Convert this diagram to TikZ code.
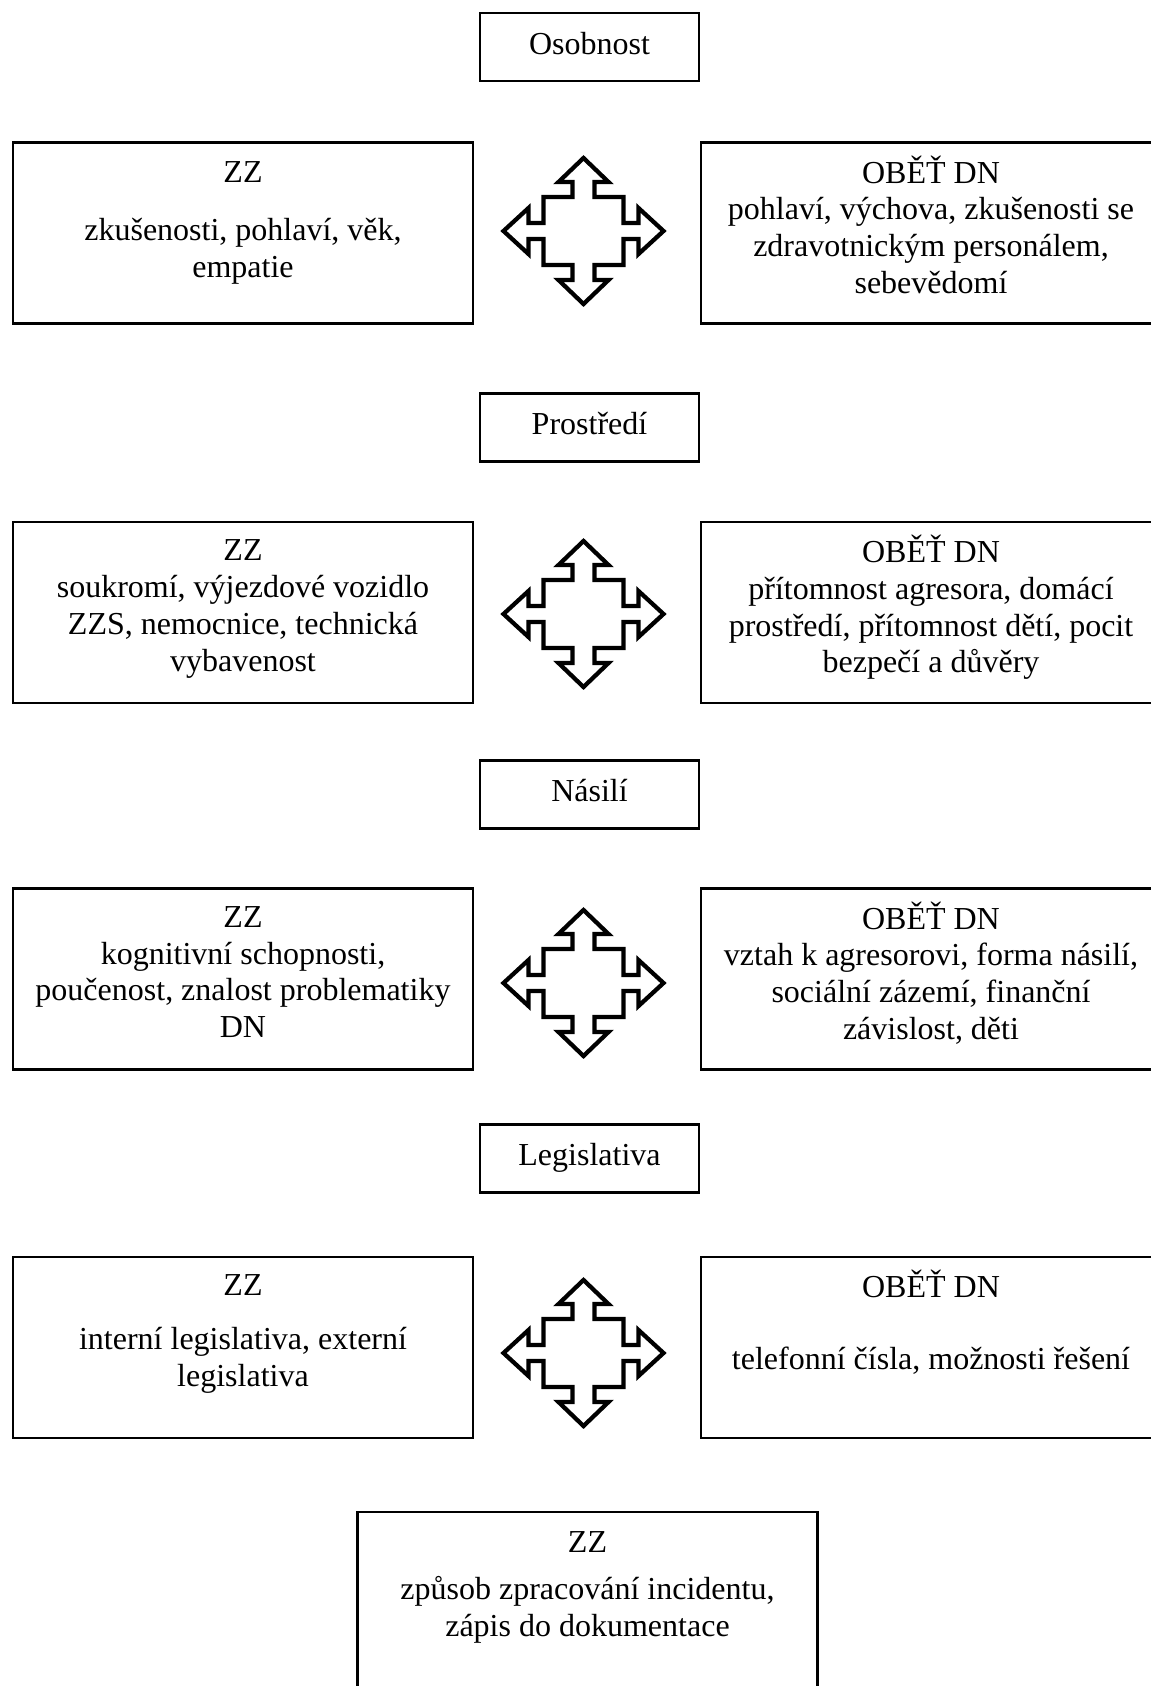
\documentclass[tikz,border=0pt]{standalone}
\usepackage{fontspec}
\setmainfont{Liberation Serif}
\usetikzlibrary{positioning}

\tikzset{
    topic/.style={draw, line width=0.8pt, minimum width=82pt, minimum height=25.5pt, inner sep=0pt, text height=9.7pt, text depth=4.1pt},
    sidebox/.style={draw, line width=0.8pt, minimum width=172.5pt, minimum height=67.9pt, inner sep=0pt},
    boxtext/.style={align=center, inner sep=0pt},
    quadarrow/.pic={
        \draw[line width=1.6pt, line join=miter, fill=white]
            (0,-73) -- (25,-49) -- (11,-49) -- (11,-34) -- (40,-34) -- (40,-8) -- (55,-8) -- (55,-23)
            -- (80,0) -- (55,23) -- (55,8) -- (40,8) -- (40,34) -- (11,34) -- (11,49) -- (25,49)
            -- (0,73) -- (-25,49) -- (-11,49) -- (-11,34) -- (-40,34) -- (-40,8) -- (-55,8) -- (-55,23)
            -- (-80,0) -- (-55,-23) -- (-55,-8) -- (-40,-8) -- (-40,-34) -- (-11,-34) -- (-11,-49) -- (-25,-49) -- cycle;
    }
}

\begin{document}
\begin{tikzpicture}[x=0.375pt, y=-0.375pt, every node/.style={font=\fontsize{12}{13.8}\selectfont}]
    \useasboundingbox (0,0) rectangle (1151,1686);

    % Osobnost
    \node[topic] (osobnost) at (589.5,47) {Osobnost};
    \node[sidebox] (zzOsob) at (243,233) {};
    \node[sidebox] (obetOsob) at (931,233) {};
    \node[boxtext, below=5.5pt of zzOsob.north] (zzOsobText) {\strut ZZ\\[8pt] zkušenosti, pohlaví, věk,\\ empatie};
    \node[boxtext, below=5.1pt of obetOsob.north] (obetOsobText) {\strut OBĚŤ DN\\ pohlaví, výchova, zkušenosti se\\ zdravotnickým personálem,\\ sebevědomí};
    \pic at (583.5,231) {quadarrow};

    % Prostredi
    \node[topic] (prostredi) at (589.5,427.5) {Prostředí};
    \node[sidebox] (zzProst) at (243,612.5) {};
    \node[sidebox] (obetProst) at (931,612.5) {};
    \node[boxtext, below=5.1pt of zzProst.north] (zzProstText) {\strut ZZ\\ soukromí, výjezdové vozidlo\\ ZZS, nemocnice, technická\\ vybavenost};
    \node[boxtext, below=5.1pt of obetProst.north] (obetProstText) {\strut OBĚŤ DN\\ přítomnost agresora, domácí\\ prostředí, přítomnost dětí, pocit\\ bezpečí a důvěry};
    \pic at (583.5,614) {quadarrow};

    % Nasili
    \node[topic] (nasili) at (589.5,794.5) {Násilí};
    \node[sidebox] (zzNasili) at (243,979) {};
    \node[sidebox] (obetNasili) at (931,979) {};
    \node[boxtext, below=5.1pt of zzNasili.north] (zzNasiliText) {\strut ZZ\\ kognitivní schopnosti,\\ poučenost, znalost problematiky\\ DN};
    \node[boxtext, below=5.1pt of obetNasili.north] (obetNasiliText) {\strut OBĚŤ DN\\ vztah k agresorovi, forma násilí,\\ sociální zázemí, finanční\\ závislost, děti};
    \pic at (583.5,983) {quadarrow};

    % Legislativa
    \node[topic] (legislativa) at (589.5,1158.5) {Legislativa};
    \node[sidebox] (zzLeg) at (243,1347.5) {};
    \node[sidebox] (obetLeg) at (931,1347.5) {};
    \node[boxtext, below=5.1pt of zzLeg.north] (zzLegText) {\strut ZZ\\[6.4pt] interní legislativa, externí\\ legislativa};
    \node[boxtext, below=5.1pt of obetLeg.north] (obetLegText) {\strut OBĚŤ DN\\[13pt] telefonní čísla, možnosti řešení};
    \pic at (583.5,1353) {quadarrow};

    % Zaver
    \node[sidebox] (zzZaver) at (587.5,1602.5) {};
    \node[boxtext, below=5.8pt of zzZaver.north] (zzZaverText) {\strut ZZ\\[3.8pt] způsob zpracování incidentu,\\ zápis do dokumentace};
\end{tikzpicture}
\end{document}
